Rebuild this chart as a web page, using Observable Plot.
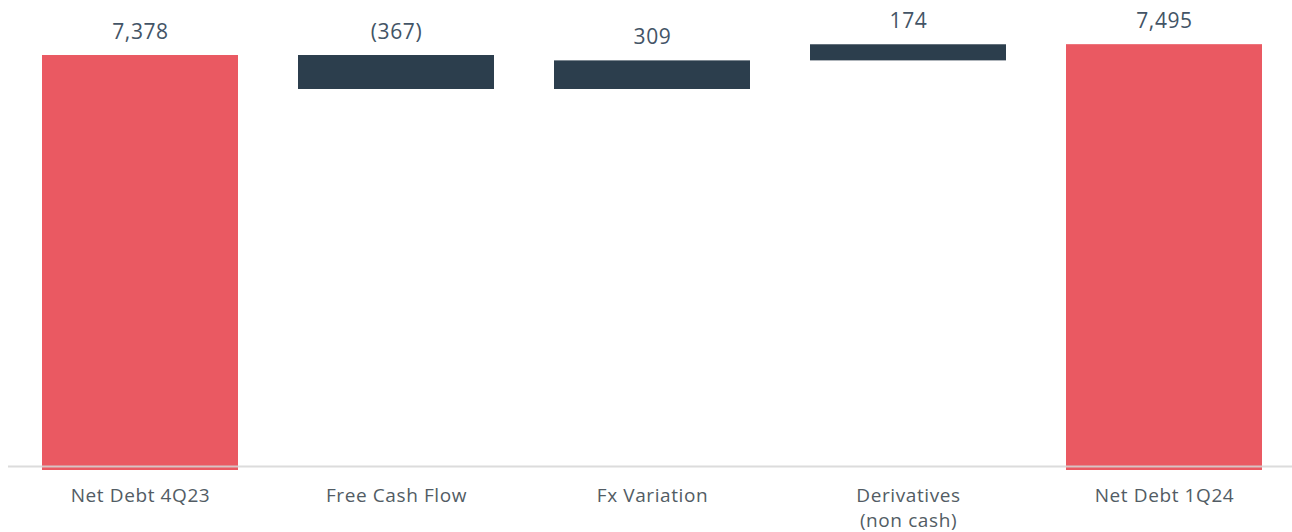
<!DOCTYPE html>
<html><head><meta charset="utf-8">
<script src="https://cdn.jsdelivr.net/npm/d3@7"></script>
<script src="https://cdn.jsdelivr.net/npm/@observablehq/plot@0.6"></script>
<style>
body{margin:0;background:#fff}
svg{display:block}
svg text{letter-spacing:0.6px}
</style>
</head><body><div id="chart"></div>
<script>
const categories = ["Net Debt 4Q23", "Free Cash Flow", "Fx Variation", "Derivatives\n(non cash)", "Net Debt 1Q24"];
const values = [7378, -367, 309, 174, 7495];
const kinds = ["total", "delta", "delta", "delta", "total"];
const labels = ["7,378", "(367)", "309", "174", "7,495"];
// truncated value axis (scale settings)
const yFloor = 2897, yCeil = 7972;

let running = 0;
const data = categories.map((c, i) => {
  let start, end;
  if (kinds[i] === "total") { start = yFloor; end = values[i]; running = values[i]; }
  else { start = running; end = running + values[i]; running = end; }
  return {category: c, start, end, top: Math.max(start, end), kind: kinds[i], label: labels[i]};
});

const chart = Plot.plot({
  width: 1292, height: 532,
  marginTop: 0, marginBottom: 62, marginLeft: 8, marginRight: 0,
  x: {domain: categories, range: [8, 1296], paddingInner: 0.236, paddingOuter: 0.1287},
  y: {domain: [yFloor, yCeil], axis: null},
  color: {domain: ["total", "delta"], range: ["#EA5962", "#2C3E4D"]},
  style: {fontFamily: "'Open Sans', sans-serif", background: "#fff"},
  marks: [
    Plot.barY(data, {x: "category", y1: "start", y2: "end", fill: "kind"}),
    Plot.ruleY([yFloor], {dy: -4, stroke: "#d6d6d6", strokeWidth: 2, strokeOpacity: 0.85}),
    Plot.text(data, {x: "category", y: "top", text: "label", dy: -17, lineAnchor: "bottom", fontSize: 21, fill: "#435466"}),
    Plot.axisX({tickSize: 0, tickPadding: 14, fontSize: 19, fill: "#525c64", lineHeight: 1.3, label: null})
  ]
});
document.getElementById("chart").appendChild(chart);
</script>
</body></html>
